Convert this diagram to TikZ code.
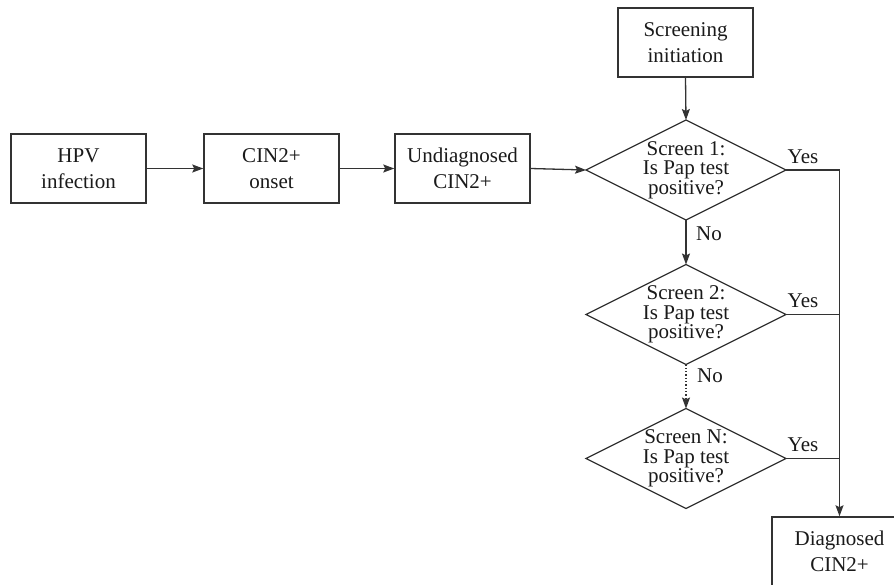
\documentclass[tikz,border=0pt]{standalone}
\usepackage{fontspec}
\setmainfont{Liberation Serif}
\usetikzlibrary{shapes.geometric,arrows.meta,calc}
\definecolor{linec}{HTML}{333333}
\definecolor{textc}{HTML}{1A1A1A}
\begin{document}
\begin{tikzpicture}[x=1pt,y=-1pt,
  boxnode/.style={draw=linec, line width=1.5pt, minimum width=135pt, minimum height=69pt, inner sep=0pt, align=center, text=textc, font=\fontsize{21}{26}\selectfont},
  dianode/.style={draw=linec, line width=1.3pt, shape=diamond, minimum width=200pt, minimum height=100pt, inner sep=0pt, outer sep=0pt},
  diatext/.style={align=center, inner sep=0pt, text=textc, font=\fontsize{21}{19.5}\selectfont},
  lbl/.style={inner sep=0pt, text=textc, font=\fontsize{21}{24}\selectfont},
  conn/.style={draw=linec, line width=1.3pt},
  arr/.style={conn, -{Stealth[length=11pt,width=8pt,inset=2pt]}}
]
\clip (0,0) rectangle (894,584);
\fill[white] (0,0) rectangle (894,584);

\node[boxnode] (hpv) at (78.5,168.5) {HPV\\infection};
\node[boxnode] (onset) at (271.5,168.5) {CIN2+\\onset};
\node[boxnode] (undiag) at (462.5,168.5) {Undiagnosed\\CIN2+};
\node[boxnode] (screen) at (685.5,42.5) {Screening\\initiation};
\node[dianode] (d1) at (686,170) {};
\node[diatext] (t1) at (d1.center) {Screen 1:\\Is Pap test\\positive?};
\node[dianode] (d2) at (686,314.5) {};
\node[diatext] (t2) at (d2.center) {Screen 2:\\Is Pap test\\positive?};
\node[dianode] (dn) at (686,458.5) {};
\node[diatext] (tn) at (dn.center) {Screen N:\\Is Pap test\\positive?};
\node[boxnode] (diag) at (839.5,551.5) {Diagnosed\\CIN2+};

\draw[arr] (hpv.east) -- (onset.west);
\draw[arr] (onset.east) -- (undiag.west);
\draw[arr] (undiag.east) -- (d1.west);
\draw[arr] (screen.south) -- (d1.north);
\draw[arr] (d1.south) -- (d2.north);
\draw[arr, dotted] (d2.south) -- (dn.north);
\draw[arr] (d1.east) -- (diag.north |- d1.east) -- (diag.north);
\draw[conn] (d2.east) -- (diag.north |- d2.east);
\draw[conn] (dn.east) -- (diag.north |- dn.east);

\node[lbl, anchor=base] (y1) at ([xshift=17pt,yshift=7pt]d1.east) {Yes};
\node[lbl, anchor=base] (y2) at ([xshift=17pt,yshift=7pt]d2.east) {Yes};
\node[lbl, anchor=base] (yn) at ([xshift=17pt,yshift=7pt]dn.east) {Yes};
\node[lbl, anchor=base west] (n1) at ([xshift=10pt,yshift=-20pt]d1.south) {No};
\node[lbl, anchor=base west] (n2) at ([xshift=11pt,yshift=-18pt]d2.south) {No};
\end{tikzpicture}
\end{document}
